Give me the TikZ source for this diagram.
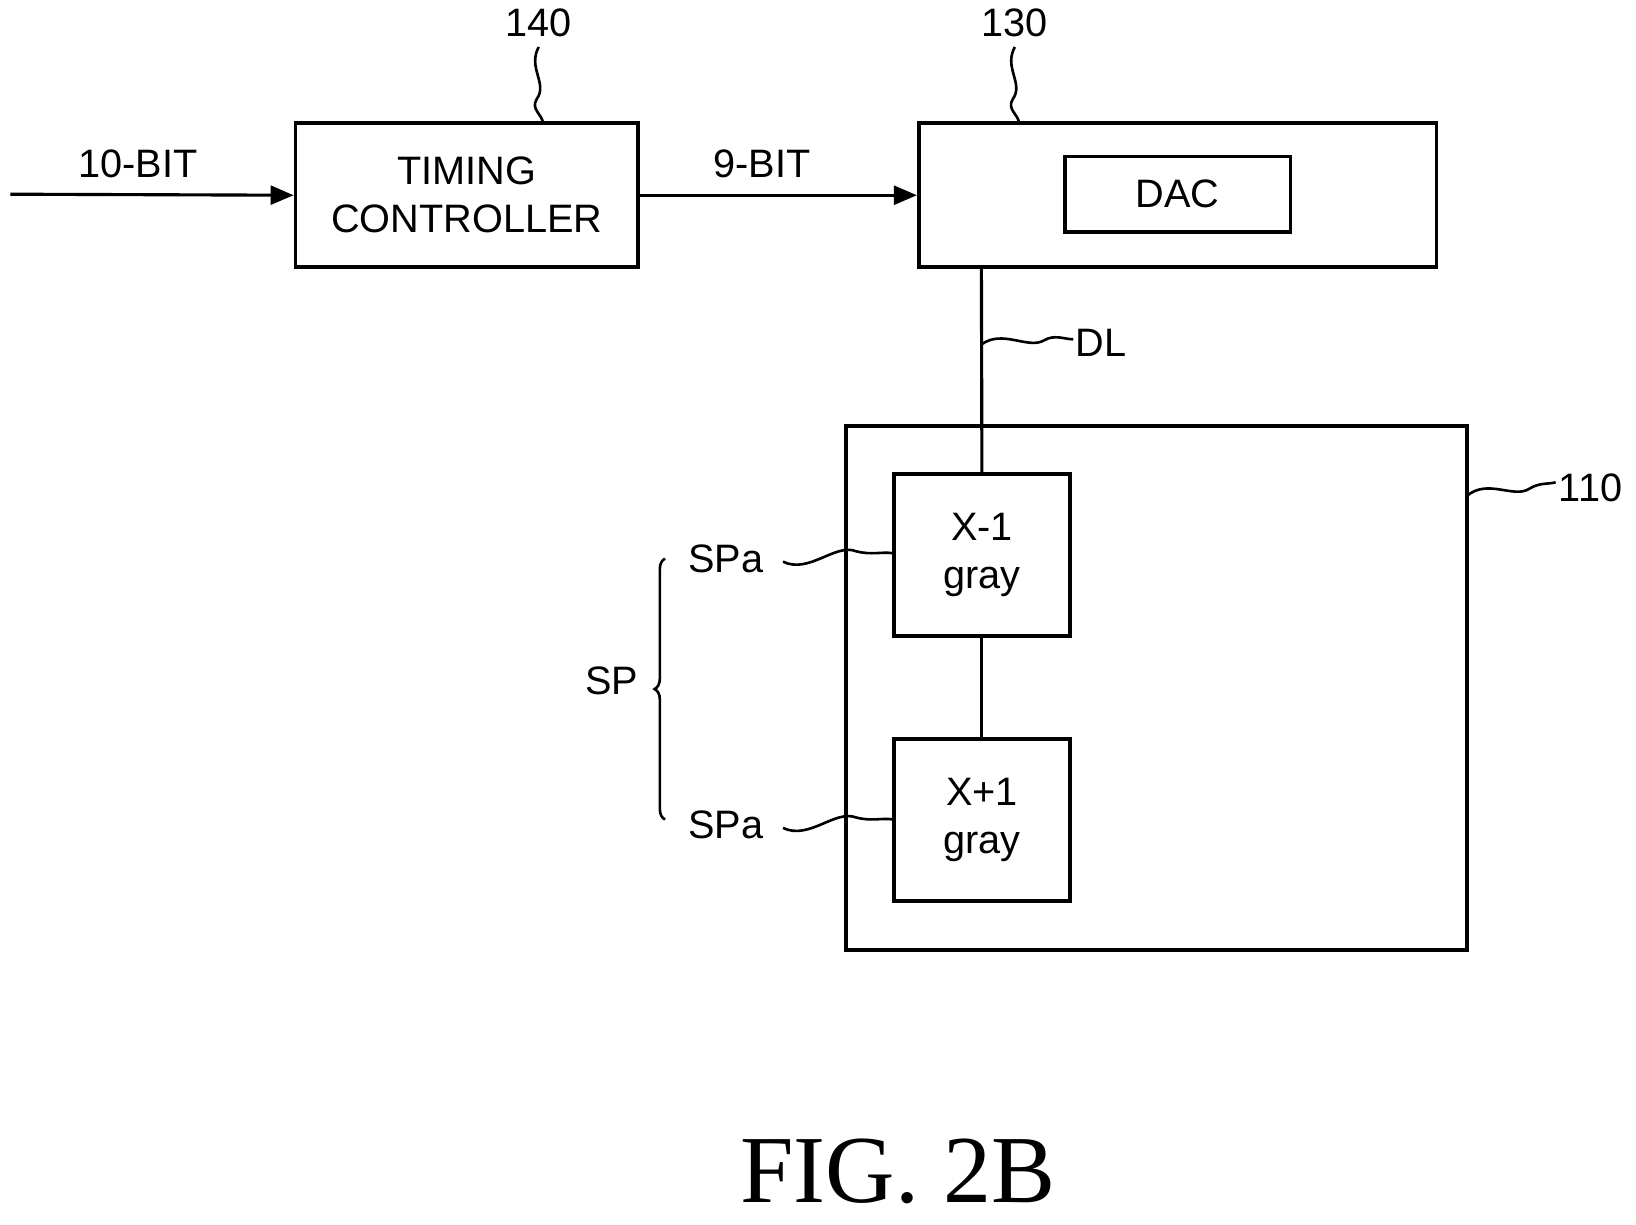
\documentclass[tikz,border=0pt]{standalone}
\usepackage{fontspec}
\setmainfont{Liberation Sans}
\newfontfamily\serifont{Liberation Serif}
\usetikzlibrary{arrows.meta,decorations.pathreplacing}
\begin{document}
\begin{tikzpicture}[x=1pt,y=-1pt,
  bx/.style={draw,line width=3.5pt,inner sep=0pt},
  ln/.style={line width=3pt},
  sq/.style={line width=2.5pt},
  arr/.style={ln,-{Triangle[length=22pt,width=18pt]}},
  lbl/.style={font=\fontsize{38}{44}\selectfont,inner sep=0pt},
  every node/.style={font=\fontsize{38}{46}\selectfont}]
\useasboundingbox (0,0) rectangle (1567,1173);
\node[bx,minimum width=328pt,minimum height=138pt,align=center] (tc) at (447,187) {TIMING\\CONTROLLER};
\node[bx,minimum width=496pt,minimum height=138pt] (sd) at (1128,187) {};
\node[bx,minimum width=216pt,minimum height=72pt] (dac) at (1128,186) {DAC};
\node[bx,minimum width=595pt,minimum height=502pt] (pn) at (1107.5,659) {};
\node[bx,minimum width=169pt,minimum height=155pt,align=center] (xa) at (940.5,531.5) {X-1\\gray};
\node[bx,minimum width=169pt,minimum height=155pt,align=center] (xb) at (940.5,785.5) {X+1\\gray};
\coordinate (in) at (10,186);
\draw[arr] (in) -- (tc.west);
\draw[arr] (tc.east) -- (sd.west);
\node[lbl] (b10) at (132,157) {10-BIT};
\node[lbl] (b9) at (730,157) {9-BIT};
\draw[ln] (940,256) -- (xa.north);
\draw[ln] (xa.south) -- (xb.north);
\node[lbl] (l140) at (516,22) {140};
\node[lbl] (l130) at (972,22) {130};
\draw[sq] (516,45) .. controls (505,65) and (525,80) .. (514,95) .. controls (508,105) and (520,110) .. (520,118);
\draw[sq] (972,45) .. controls (961,65) and (981,80) .. (970,95) .. controls (964,105) and (976,110) .. (976,118);
\node[lbl,anchor=west] (ldl) at (1030,328) {DL};
\draw[sq] (940,330) .. controls (960,315) and (985,335) .. (1000,326) .. controls (1010,320) and (1020,325) .. (1028,325);
\node[lbl,anchor=west] (l110) at (1493,467) {110};
\draw[sq] (1405,475) .. controls (1425,458) and (1450,478) .. (1465,468) .. controls (1475,462) and (1482,464) .. (1490,462);
\node[lbl] (sa1) at (695,535) {SPa};
\node[lbl] (sa2) at (695,790) {SPa};
\draw[sq] (750,538) .. controls (775,550) and (800,520) .. (820,528) .. controls (835,532) and (845,528) .. (856,530);
\draw[sq] (750,793) .. controls (775,805) and (800,775) .. (820,783) .. controls (835,787) and (845,783) .. (856,785);
\draw[sq,decorate,decoration={brace,amplitude=10pt}] (637,785) -- (637,535);
\node[lbl] (sp) at (586,652) {SP};
\node[font=\serifont\fontsize{92}{100}\selectfont,inner sep=0pt] (fig) at (860,1122) {FIG. 2B};
\end{tikzpicture}
\end{document}
